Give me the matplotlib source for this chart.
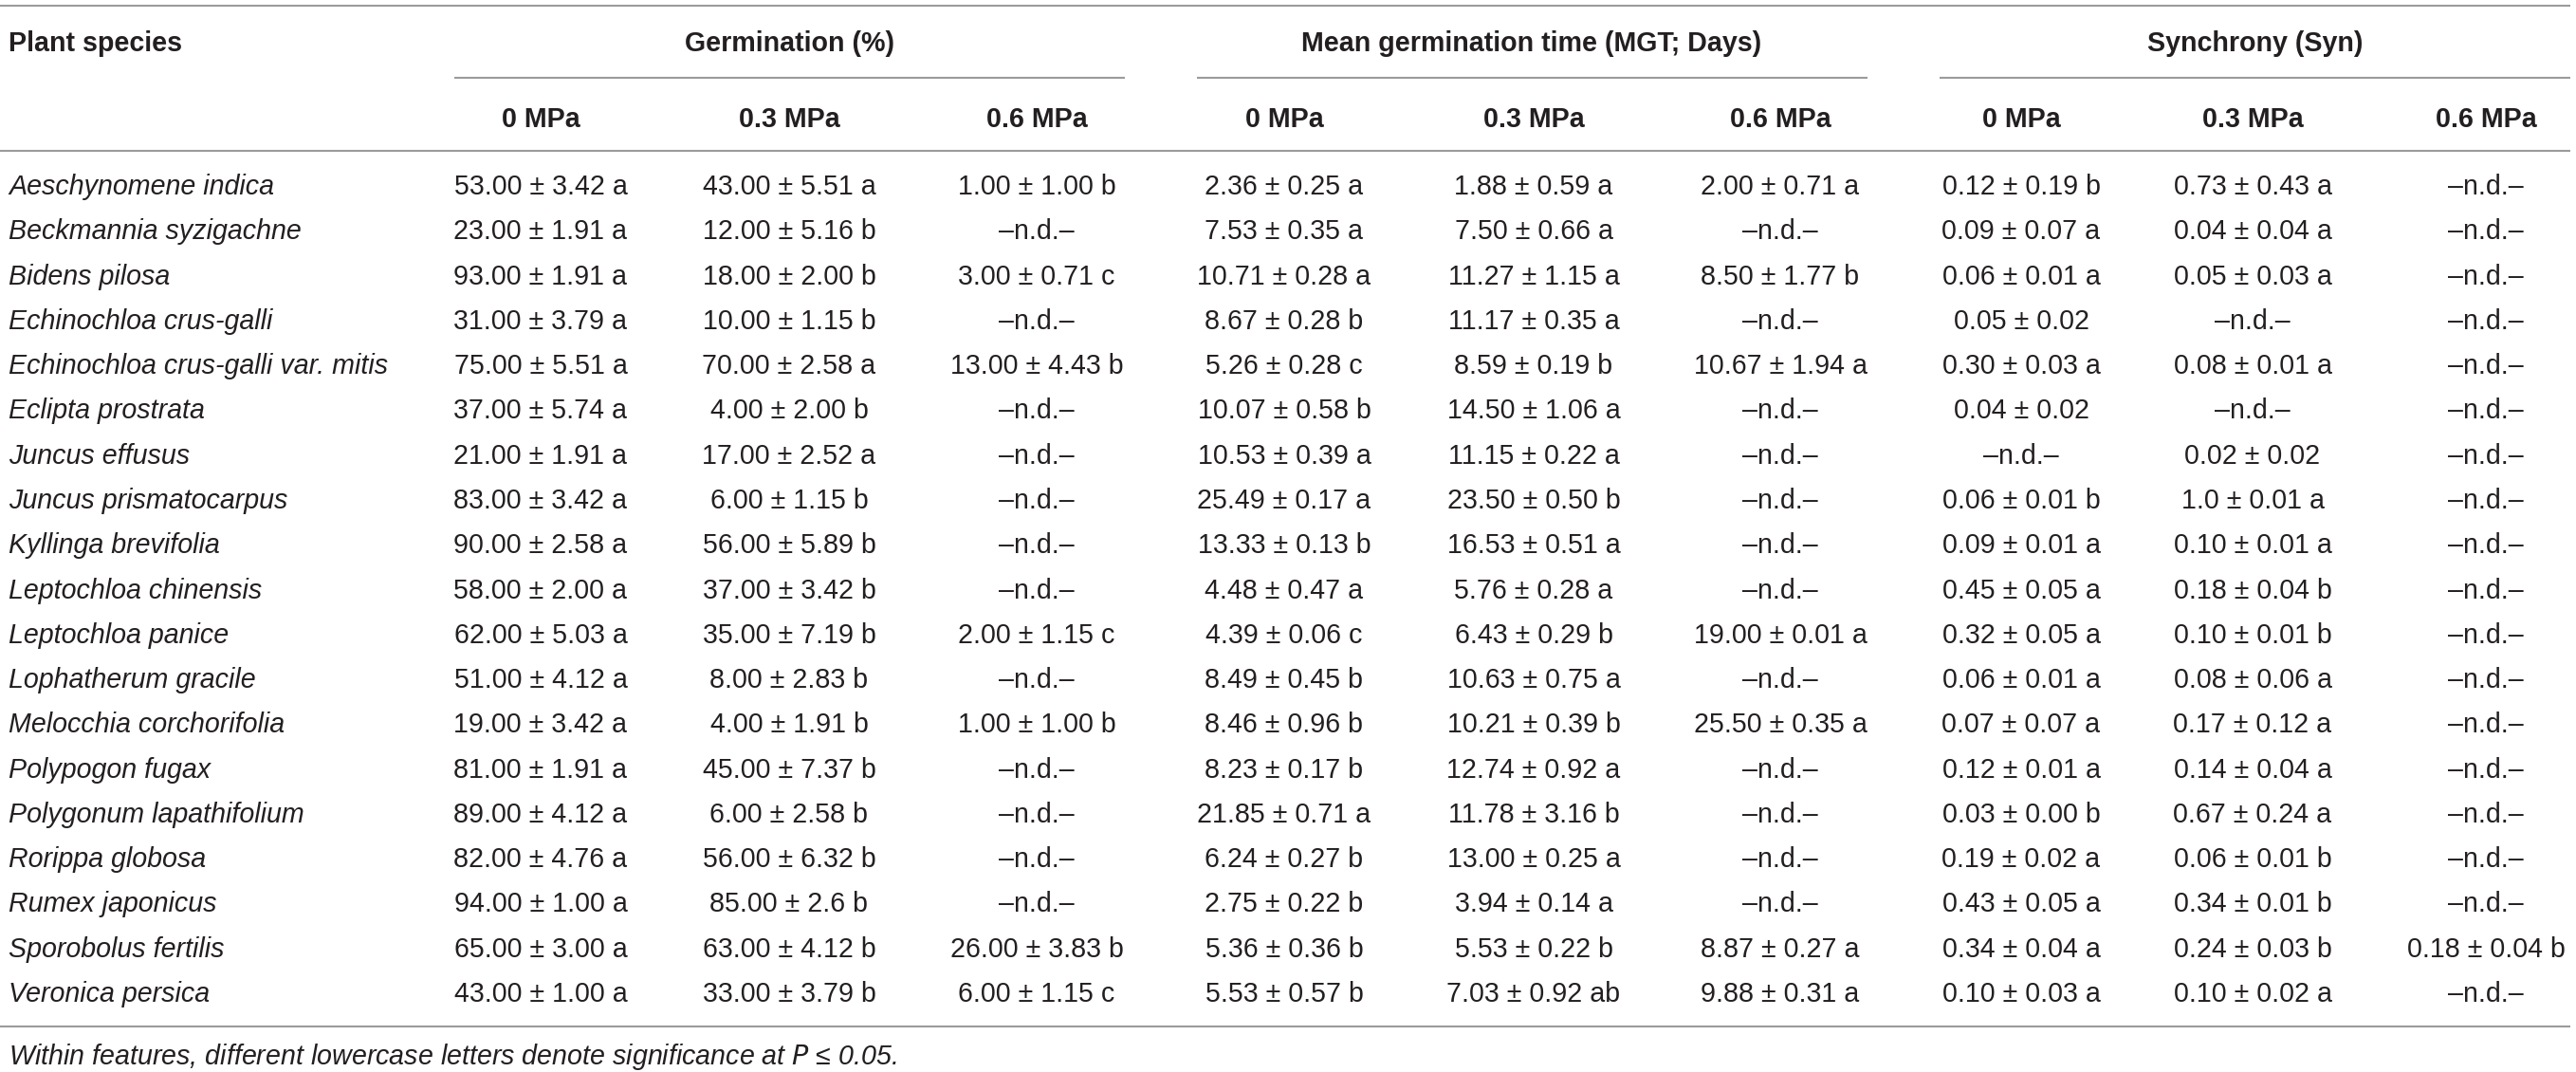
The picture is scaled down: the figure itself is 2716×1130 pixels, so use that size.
import matplotlib
matplotlib.use("Agg")
import matplotlib.pyplot as plt

species = [
    "Aeschynomene indica", "Beckmannia syzigachne", "Bidens pilosa",
    "Echinochloa crus-galli", "Echinochloa crus-galli var. mitis",
    "Eclipta prostrata", "Juncus effusus", "Juncus prismatocarpus",
    "Kyllinga brevifolia", "Leptochloa chinensis", "Leptochloa panice",
    "Lophatherum gracile", "Melocchia corchorifolia", "Polypogon fugax",
    "Polygonum lapathifolium", "Rorippa globosa", "Rumex japonicus",
    "Sporobolus fertilis", "Veronica persica",
]
ND = "–n.d.–"
germ_0 = ["53.00 ± 3.42 a", "23.00 ± 1.91 a", "93.00 ± 1.91 a", "31.00 ± 3.79 a",
          "75.00 ± 5.51 a", "37.00 ± 5.74 a", "21.00 ± 1.91 a", "83.00 ± 3.42 a",
          "90.00 ± 2.58 a", "58.00 ± 2.00 a", "62.00 ± 5.03 a", "51.00 ± 4.12 a",
          "19.00 ± 3.42 a", "81.00 ± 1.91 a", "89.00 ± 4.12 a", "82.00 ± 4.76 a",
          "94.00 ± 1.00 a", "65.00 ± 3.00 a", "43.00 ± 1.00 a"]
germ_03 = ["43.00 ± 5.51 a", "12.00 ± 5.16 b", "18.00 ± 2.00 b", "10.00 ± 1.15 b",
           "70.00 ± 2.58 a", "4.00 ± 2.00 b", "17.00 ± 2.52 a", "6.00 ± 1.15 b",
           "56.00 ± 5.89 b", "37.00 ± 3.42 b", "35.00 ± 7.19 b", "8.00 ± 2.83 b",
           "4.00 ± 1.91 b", "45.00 ± 7.37 b", "6.00 ± 2.58 b", "56.00 ± 6.32 b",
           "85.00 ± 2.6 b", "63.00 ± 4.12 b", "33.00 ± 3.79 b"]
germ_06 = ["1.00 ± 1.00 b", ND, "3.00 ± 0.71 c", ND, "13.00 ± 4.43 b", ND, ND, ND,
           ND, ND, "2.00 ± 1.15 c", ND, "1.00 ± 1.00 b", ND, ND, ND, ND,
           "26.00 ± 3.83 b", "6.00 ± 1.15 c"]
mgt_0 = ["2.36 ± 0.25 a", "7.53 ± 0.35 a", "10.71 ± 0.28 a", "8.67 ± 0.28 b",
         "5.26 ± 0.28 c", "10.07 ± 0.58 b", "10.53 ± 0.39 a", "25.49 ± 0.17 a",
         "13.33 ± 0.13 b", "4.48 ± 0.47 a", "4.39 ± 0.06 c", "8.49 ± 0.45 b",
         "8.46 ± 0.96 b", "8.23 ± 0.17 b", "21.85 ± 0.71 a", "6.24 ± 0.27 b",
         "2.75 ± 0.22 b", "5.36 ± 0.36 b", "5.53 ± 0.57 b"]
mgt_03 = ["1.88 ± 0.59 a", "7.50 ± 0.66 a", "11.27 ± 1.15 a", "11.17 ± 0.35 a",
          "8.59 ± 0.19 b", "14.50 ± 1.06 a", "11.15 ± 0.22 a", "23.50 ± 0.50 b",
          "16.53 ± 0.51 a", "5.76 ± 0.28 a", "6.43 ± 0.29 b", "10.63 ± 0.75 a",
          "10.21 ± 0.39 b", "12.74 ± 0.92 a", "11.78 ± 3.16 b", "13.00 ± 0.25 a",
          "3.94 ± 0.14 a", "5.53 ± 0.22 b", "7.03 ± 0.92 ab"]
mgt_06 = ["2.00 ± 0.71 a", ND, "8.50 ± 1.77 b", ND, "10.67 ± 1.94 a", ND, ND, ND,
          ND, ND, "19.00 ± 0.01 a", ND, "25.50 ± 0.35 a", ND, ND, ND, ND,
          "8.87 ± 0.27 a", "9.88 ± 0.31 a"]
syn_0 = ["0.12 ± 0.19 b", "0.09 ± 0.07 a", "0.06 ± 0.01 a", "0.05 ± 0.02",
         "0.30 ± 0.03 a", "0.04 ± 0.02", ND, "0.06 ± 0.01 b", "0.09 ± 0.01 a",
         "0.45 ± 0.05 a", "0.32 ± 0.05 a", "0.06 ± 0.01 a", "0.07 ± 0.07 a",
         "0.12 ± 0.01 a", "0.03 ± 0.00 b", "0.19 ± 0.02 a", "0.43 ± 0.05 a",
         "0.34 ± 0.04 a", "0.10 ± 0.03 a"]
syn_03 = ["0.73 ± 0.43 a", "0.04 ± 0.04 a", "0.05 ± 0.03 a", ND, "0.08 ± 0.01 a",
          ND, "0.02 ± 0.02", "1.0 ± 0.01 a", "0.10 ± 0.01 a", "0.18 ± 0.04 b",
          "0.10 ± 0.01 b", "0.08 ± 0.06 a", "0.17 ± 0.12 a", "0.14 ± 0.04 a",
          "0.67 ± 0.24 a", "0.06 ± 0.01 b", "0.34 ± 0.01 b", "0.24 ± 0.03 b",
          "0.10 ± 0.02 a"]
syn_06 = [ND] * 17 + ["0.18 ± 0.04 b", ND]

groups = ["Germination (%)", "Mean germination time (MGT; Days)", "Synchrony (Syn)"]
levels = ["0 MPa", "0.3 MPa", "0.6 MPa"]
first_header = "Plant species"
footnote = "Within features, different lowercase letters denote significance at $\\mathit{P}$ ≤ 0.05."

columns = [germ_0, germ_03, germ_06, mgt_0, mgt_03, mgt_06, syn_0, syn_03, syn_06]

# ---- layout (pixels) ----
W, H = 2716, 1130
col_x = [570, 832, 1093, 1354, 1617, 1877, 2131, 2375, 2621]
group_x = [832, 1615, 2378]
group_span = [(479, 1186), (1262, 1969), (2045, 2710)]
left_x = 9
row_base0, row_step = 205, 47.28
FS = 20.6
TXT = "#231f20"
LINE = "#9b9b9b"
LW = 1.5

plt.rcParams["font.family"] = ["Liberation Sans", "DejaVu Sans"]

fig = plt.figure(figsize=(W / 100, H / 100), dpi=100)
ax = fig.add_axes([0, 0, 1, 1])
ax.set_xlim(0, W)
ax.set_ylim(H, 0)
ax.axis("off")

# horizontal rules
for y in (5.5, 159, 1082):
    ax.plot([0, 2710], [y, y], color=LINE, lw=LW, solid_capstyle="butt")
for (a, b) in group_span:
    ax.plot([a, b], [82, 82], color=LINE, lw=LW, solid_capstyle="butt")

# headers
ax.text(left_x, 53.5, first_header, fontsize=FS, fontweight="bold", color=TXT,
        ha="left", va="baseline")
for gx, g in zip(group_x, groups):
    ax.text(gx, 53.5, g, fontsize=FS, fontweight="bold", color=TXT,
            ha="center", va="baseline")
for i, cx in enumerate(col_x):
    ax.text(cx, 133.5, levels[i % 3], fontsize=FS, fontweight="bold", color=TXT,
            ha="center", va="baseline")

# body
for r, sp in enumerate(species):
    yb = row_base0 + r * row_step
    ax.text(left_x, yb, sp, fontsize=FS, style="italic", color=TXT,
            ha="left", va="baseline")
    for cx, col in zip(col_x, columns):
        ax.text(cx, yb, col[r], fontsize=FS, color=TXT, ha="center", va="baseline")

ax.text(left_x, 1122, footnote, fontsize=FS, style="italic", color=TXT,
        ha="left", va="baseline")

fig.savefig("out.png", dpi=100, facecolor="white")
